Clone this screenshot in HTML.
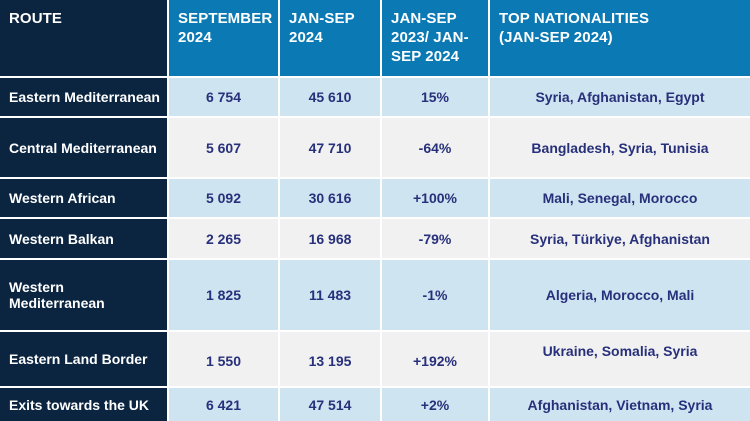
<!DOCTYPE html>
<html><head><style>
body{margin:0;width:750px;height:421px;background:#fff;overflow:hidden;font-family:"Liberation Sans",Arial,sans-serif;font-weight:bold;position:relative}
.c{position:absolute;box-sizing:border-box;display:flex;align-items:center;justify-content:center;text-align:center;font-size:14px;color:#27307a}
.h{position:absolute;background:#0b7ab4;color:#fff;font-size:15px;line-height:19px;padding:9px 0 0 9px;box-sizing:border-box;letter-spacing:0.1px}
.r{background:#0b2540;color:#fff;justify-content:flex-start;padding-left:9px;text-align:left;font-size:14px}
.b{background:#cfe4f1}.g{background:#f1f1f1}
</style></head><body>
<div class="h" style="left:0;top:0;width:167px;height:76px;background:#0b2540">ROUTE</div>
<div class="h" style="left:169px;top:0;width:109px;height:76px">SEPTEMBER<br>2024</div>
<div class="h" style="left:280px;top:0;width:100px;height:76px">JAN-SEP<br>2024</div>
<div class="h" style="left:382px;top:0;width:106px;height:76px">JAN-SEP<br>2023/ JAN-<br>SEP 2024</div>
<div class="h" style="left:490px;top:0;width:260px;height:76px">TOP NATIONALITIES<br>(JAN-SEP 2024)</div>

<div class="c r" style="left:0;top:78px;width:167px;height:38px">Eastern Mediterranean</div>
<div class="c b" style="left:169px;top:78px;width:109px;height:38px">6 754</div>
<div class="c b" style="left:280px;top:78px;width:100px;height:38px">45 610</div>
<div class="c b" style="left:382px;top:78px;width:106px;height:38px">15%</div>
<div class="c b" style="left:490px;top:78px;width:260px;height:38px">Syria, Afghanistan, Egypt</div>

<div class="c r" style="left:0;top:118px;width:167px;height:59px">Central Mediterranean</div>
<div class="c g" style="left:169px;top:118px;width:109px;height:59px">5 607</div>
<div class="c g" style="left:280px;top:118px;width:100px;height:59px">47 710</div>
<div class="c g" style="left:382px;top:118px;width:106px;height:59px">-64%</div>
<div class="c g" style="left:490px;top:118px;width:260px;height:59px">Bangladesh, Syria, Tunisia</div>

<div class="c r" style="left:0;top:179px;width:167px;height:38px">Western African</div>
<div class="c b" style="left:169px;top:179px;width:109px;height:38px">5 092</div>
<div class="c b" style="left:280px;top:179px;width:100px;height:38px">30 616</div>
<div class="c b" style="left:382px;top:179px;width:106px;height:38px">+100%</div>
<div class="c b" style="left:490px;top:179px;width:260px;height:38px">Mali, Senegal, Morocco</div>

<div class="c r" style="left:0;top:219px;width:167px;height:39px">Western Balkan</div>
<div class="c g" style="left:169px;top:219px;width:109px;height:39px">2 265</div>
<div class="c g" style="left:280px;top:219px;width:100px;height:39px">16 968</div>
<div class="c g" style="left:382px;top:219px;width:106px;height:39px">-79%</div>
<div class="c g" style="left:490px;top:219px;width:260px;height:39px">Syria, Türkiye, Afghanistan</div>

<div class="c r" style="left:0;top:260px;width:167px;height:70px">Western<br>Mediterranean</div>
<div class="c b" style="left:169px;top:260px;width:109px;height:70px">1 825</div>
<div class="c b" style="left:280px;top:260px;width:100px;height:70px">11 483</div>
<div class="c b" style="left:382px;top:260px;width:106px;height:70px">-1%</div>
<div class="c b" style="left:490px;top:260px;width:260px;height:70px">Algeria, Morocco, Mali</div>

<div class="c r" style="left:0;top:332px;width:167px;height:54px">Eastern Land Border</div>
<div class="c g" style="left:169px;top:332px;width:109px;height:54px;padding-top:4px">1 550</div>
<div class="c g" style="left:280px;top:332px;width:100px;height:54px;padding-top:4px">13 195</div>
<div class="c g" style="left:382px;top:332px;width:106px;height:54px;padding-top:4px">+192%</div>
<div class="c g" style="left:490px;top:332px;width:260px;height:54px;padding-bottom:16px">Ukraine, Somalia, Syria</div>

<div class="c r" style="left:0;top:388px;width:167px;height:33px">Exits towards the UK</div>
<div class="c b" style="left:169px;top:388px;width:109px;height:33px">6 421</div>
<div class="c b" style="left:280px;top:388px;width:100px;height:33px">47 514</div>
<div class="c b" style="left:382px;top:388px;width:106px;height:33px">+2%</div>
<div class="c b" style="left:490px;top:388px;width:260px;height:33px">Afghanistan, Vietnam, Syria</div>
</body></html>
